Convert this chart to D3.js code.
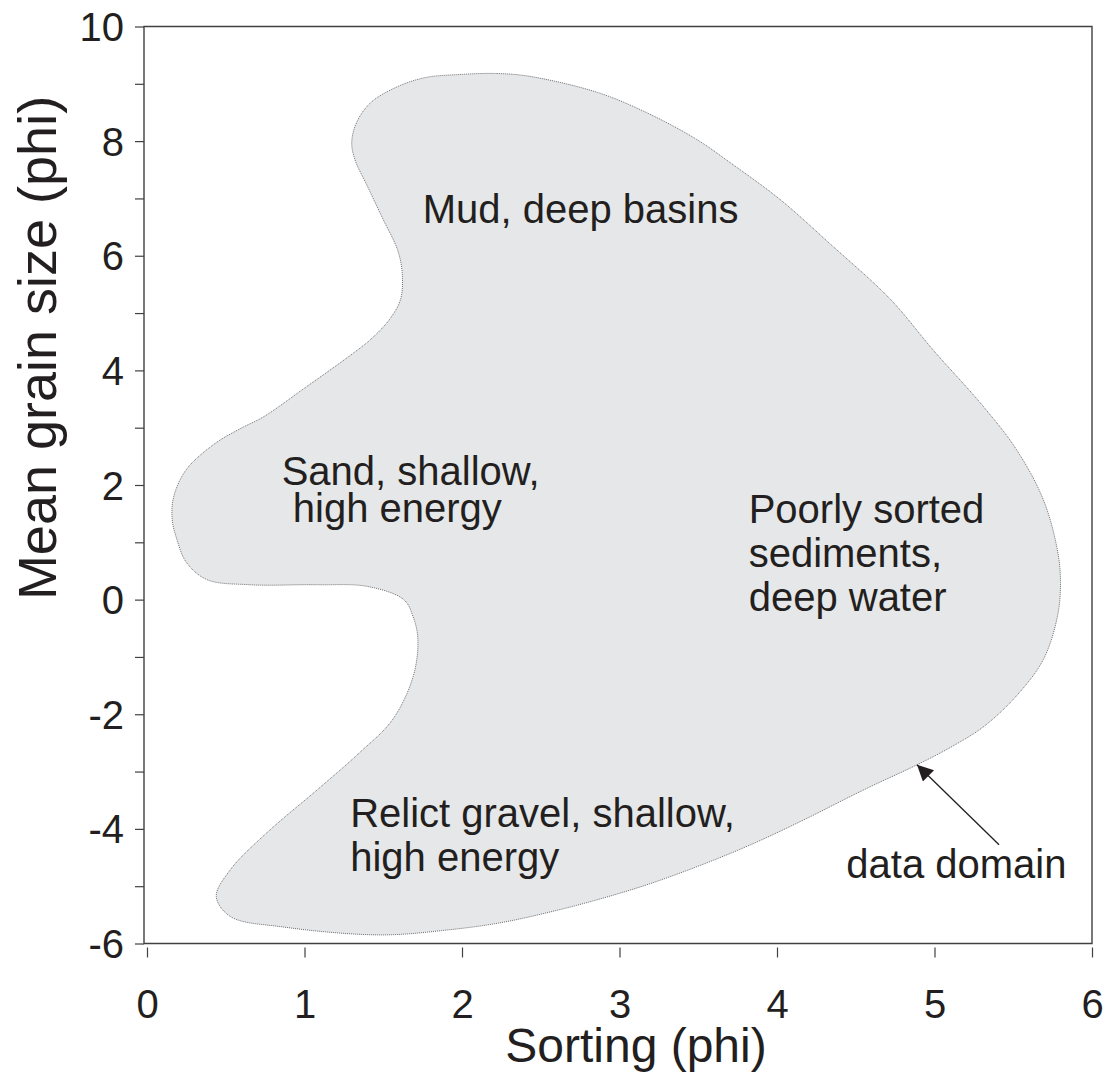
<!DOCTYPE html>
<html>
<head>
<meta charset="utf-8">
<script src="https://cdn.jsdelivr.net/npm/d3@7"></script>
<style>
  html, body { margin: 0; padding: 0; background: #fff; }
  svg text { font-family: "Liberation Sans", Arial, sans-serif; fill: #231f20; }
</style>
</head>
<body>
<svg id="chart" width="1105" height="1088"></svg>
<script>
// ---- data ----
const xTicks = [0, 1, 2, 3, 4, 5, 6];
const yTicks = [-6, -5, -4, -3, -2, -1, 0, 1, 2, 3, 4, 5, 6, 7, 8, 9, 10];
const yLabelTicks = [-6, -4, -2, 0, 2, 4, 6, 8, 10];
const xTitle = "Sorting (phi)";
const yTitle = "Mean grain size (phi)";

// outline of the data domain (sorting, mean grain size), clockwise
const domainSorting = [1.97, 2.22, 2.43, 2.86, 3.17, 3.49, 3.70, 4.02, 4.34, 4.72, 4.99, 5.31, 5.52, 5.69, 5.78, 5.80,
  5.78, 5.69, 5.52, 5.31, 5.10, 4.89, 4.55, 4.15, 3.83, 3.51, 3.19, 2.88, 2.56, 2.24, 1.92, 1.48, 0.86, 0.53, 0.44,
  0.53, 0.76, 1.08, 1.35, 1.56, 1.69, 1.72, 1.69, 1.63, 1.40, 1.08, 0.65, 0.38, 0.25, 0.19, 0.16, 0.17, 0.25, 0.43,
  0.59, 0.74, 1.00, 1.28, 1.42, 1.54, 1.61, 1.62, 1.59, 1.50, 1.40, 1.32, 1.30, 1.33, 1.42, 1.59, 1.77];
const domainGrain = [9.16, 9.18, 9.13, 8.85, 8.50, 8.03, 7.63, 6.98, 6.20, 5.24, 4.36, 3.37, 2.62, 1.75, 0.87, 0.30,
  -0.30, -1.05, -1.68, -2.22, -2.58, -2.88, -3.32, -3.87, -4.28, -4.64, -4.96, -5.22, -5.45, -5.64, -5.76, -5.85, -5.71, -5.53, -5.18,
  -4.71, -4.07, -3.32, -2.67, -2.09, -1.34, -0.70, -0.30, 0.00, 0.23, 0.26, 0.26, 0.35, 0.65, 1.05, 1.40, 1.80, 2.27, 2.72,
  2.98, 3.19, 3.69, 4.24, 4.54, 4.89, 5.24, 5.71, 6.11, 6.63, 7.21, 7.68, 7.98, 8.32, 8.67, 8.95, 9.11];

// annotations: lines of text, anchor (sorting, grain size) of first baseline, line step (grain units)
const annoText = [
  ["Mud, deep basins"],
  ["Sand, shallow,", " high energy"],
  ["Poorly sorted", "sediments,", "deep water"],
  ["Relict gravel, shallow,", "high energy"],
  ["data domain"]
];
const annoX = [1.75, 0.855, 3.82, 1.29, 4.44];
const annoY = [6.58, 2.007, 1.34, -3.96, -4.852];
const annoStep = [0.66, 0.66, 0.77, 0.78, 0.66];

// arrow from label to domain edge
const arrowFrom = [5.41, -4.276];
const arrowTo = [4.889, -2.88];

// ---- drawing ----
const svg = d3.select("#chart");
const x = d3.scaleLinear().domain([0, 6]).range([147, 1092]);
const y = d3.scaleLinear().domain([-6, 10]).range([943.5, 26.5]);
const unitPx = y(0) - y(1);

const defs = svg.append("defs");
defs.append("marker")
  .attr("id", "ah").attr("viewBox", "0 0 10 10")
  .attr("refX", 10).attr("refY", 5)
  .attr("markerWidth", 24).attr("markerHeight", 16)
  .attr("markerUnits", "userSpaceOnUse")
  .attr("orient", "auto")
  .append("path").attr("d", "M0,0 L10,5 L0,10 Z").attr("fill", "#231f20");

// data domain shape
const pts = domainSorting.map((s, i) => [x(s), y(domainGrain[i])]);
svg.append("path")
  .attr("d", d3.line().curve(d3.curveCatmullRomClosed.alpha(0.5))(pts))
  .attr("fill", "#e6e7e8")
  .attr("stroke", "#6d6e71")
  .attr("stroke-width", 1)
  .attr("stroke-dasharray", "1,1");

// frame
const frameColor = "#414042";
svg.append("path")
  .attr("d", `M${x(0) - 3},${y(-6)} L${x(6)},${y(-6)} L${x(6)},${y(10)} L${x(0) - 3},${y(10)} Z`)
  .attr("fill", "none").attr("stroke", frameColor).attr("stroke-width", 1.4);

// y axis
const yAxis = d3.axisLeft(y).tickValues(yTicks).tickSize(9).tickSizeOuter(0)
  .tickFormat(d => yLabelTicks.includes(d) ? String(d) : "");
const gy = svg.append("g").attr("transform", `translate(${x(0) - 3},0)`).call(yAxis);
gy.select(".domain").remove();
gy.selectAll(".tick line").attr("stroke", frameColor).attr("stroke-width", 1.2);
gy.selectAll(".tick text").attr("x", -20).attr("dy", "0.35em")
  .style("font-size", "40px").attr("fill", "#231f20");

// x axis (detached ticks below frame)
const xAxis = d3.axisBottom(x).tickValues(xTicks).tickSize(10).tickSizeOuter(0).tickFormat(d3.format("d"));
const gx = svg.append("g").attr("transform", `translate(0,${y(-6) + 4})`).call(xAxis);
gx.select(".domain").remove();
gx.selectAll(".tick line").attr("stroke", frameColor).attr("stroke-width", 1.2);
gx.selectAll(".tick text").attr("y", 70).attr("dy", null)
  .style("font-size", "40px").attr("fill", "#231f20");

// axis titles
svg.append("text").attr("x", 636).attr("y", 1062).attr("text-anchor", "middle")
  .style("font-size", "48px").text(xTitle);
svg.append("text").attr("transform", "translate(56,348) rotate(-90)").attr("text-anchor", "middle")
  .style("font-size", "54px").text(yTitle);

// annotations
annoText.forEach((lines, i) => {
  const t = svg.append("text").attr("x", x(annoX[i])).attr("y", y(annoY[i]))
    .style("font-size", "40px").style("white-space", "pre").attr("xml:space", "preserve");
  lines.forEach((ln, j) => {
    t.append("tspan").attr("x", x(annoX[i])).attr("dy", j === 0 ? 0 : annoStep[i] * unitPx).text(ln);
  });
});

// arrow
svg.append("line")
  .attr("x1", x(arrowFrom[0])).attr("y1", y(arrowFrom[1]))
  .attr("x2", x(arrowTo[0])).attr("y2", y(arrowTo[1]))
  .attr("stroke", "#231f20").attr("stroke-width", 1.3)
  .attr("marker-end", "url(#ah)");
</script>
</body>
</html>
